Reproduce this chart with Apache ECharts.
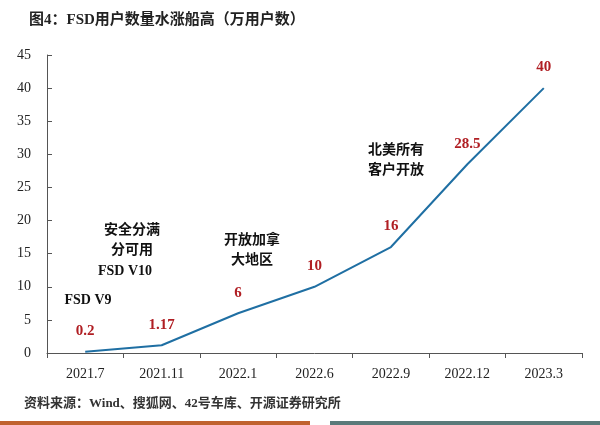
<!DOCTYPE html>
<html><head><meta charset="utf-8">
<script src="https://cdn.jsdelivr.net/npm/echarts@6/dist/echarts.min.js"></script>
<style>html,body{margin:0;padding:0;background:#fff}#c{width:600px;height:425px}</style>
</head><body><div id="c"></div>
<script>
const categories = ['2021.7','2021.11','2022.1','2022.6','2022.9','2022.12','2023.3'];
const users = [0.2,1.17,6,10,16,28.5,40];
const yTicks = {min:0,max:45,interval:5};
const serif = '"Liberation Serif","Noto Sans CJK SC",serif';
const chart = echarts.init(document.getElementById('c'));
const ann = (x,y,t)=>({type:'text',x:x,y:y,style:{text:t,font:'bold 14px '+serif,fill:'#111',align:'center',verticalAlign:'middle',lineHeight:20}});
chart.setOption({
  backgroundColor:'#fff',
  animation:false,
  title:{text:'图4：FSD用户数量水涨船高（万用户数）',left:24,top:8,textStyle:{fontFamily:serif,fontSize:15,fontWeight:'bold',color:'#222'}},
  grid:{left:47,right:18,top:55,bottom:72},
  xAxis:{type:'category',data:categories,boundaryGap:true,
    axisLine:{lineStyle:{color:'#555'}},axisTick:{show:true,lineStyle:{color:'#555'}},
    axisLabel:{fontFamily:serif,fontSize:14,color:'#222',margin:14}},
  yAxis:{type:'value',min:yTicks.min,max:yTicks.max,interval:yTicks.interval,
    splitLine:{show:false},axisLine:{show:true,lineStyle:{color:'#555'}},axisTick:{show:true,inside:true,lineStyle:{color:'#555'}},
    axisLabel:{fontFamily:serif,fontSize:14,color:'#222',margin:16}},
  series:[{type:'line',data:users,symbol:'circle',symbolSize:2,showSymbol:true,showAllSymbol:true,itemStyle:{color:'rgba(0,0,0,0)'},
    lineStyle:{color:'#1f6fa3',width:2},
    label:{show:true,position:'top',distance:12,fontFamily:serif,fontSize:15,fontWeight:'bold',color:'#b01e23'},
    labelLayout:{hideOverlap:false}
  }],
  graphic:[
    ann(132,240,'安全分满\n分可用'),
    ann(125,271,'FSD V10'),
    ann(88,300,'FSD V9'),
    ann(252,250,'开放加拿\n大地区'),
    ann(396,160,'北美所有\n客户开放'),
    {type:'text',left:24,top:397,style:{text:'资料来源：Wind、搜狐网、42号车库、开源证券研究所',font:'bold 13px '+serif,fill:'#333'}},
    {type:'rect',shape:{x:0,y:421,width:310,height:4},style:{fill:'#c0622f'}},
    {type:'rect',shape:{x:330,y:421,width:270,height:4},style:{fill:'#5a7a7a'}}
  ]
});
</script></body></html>
